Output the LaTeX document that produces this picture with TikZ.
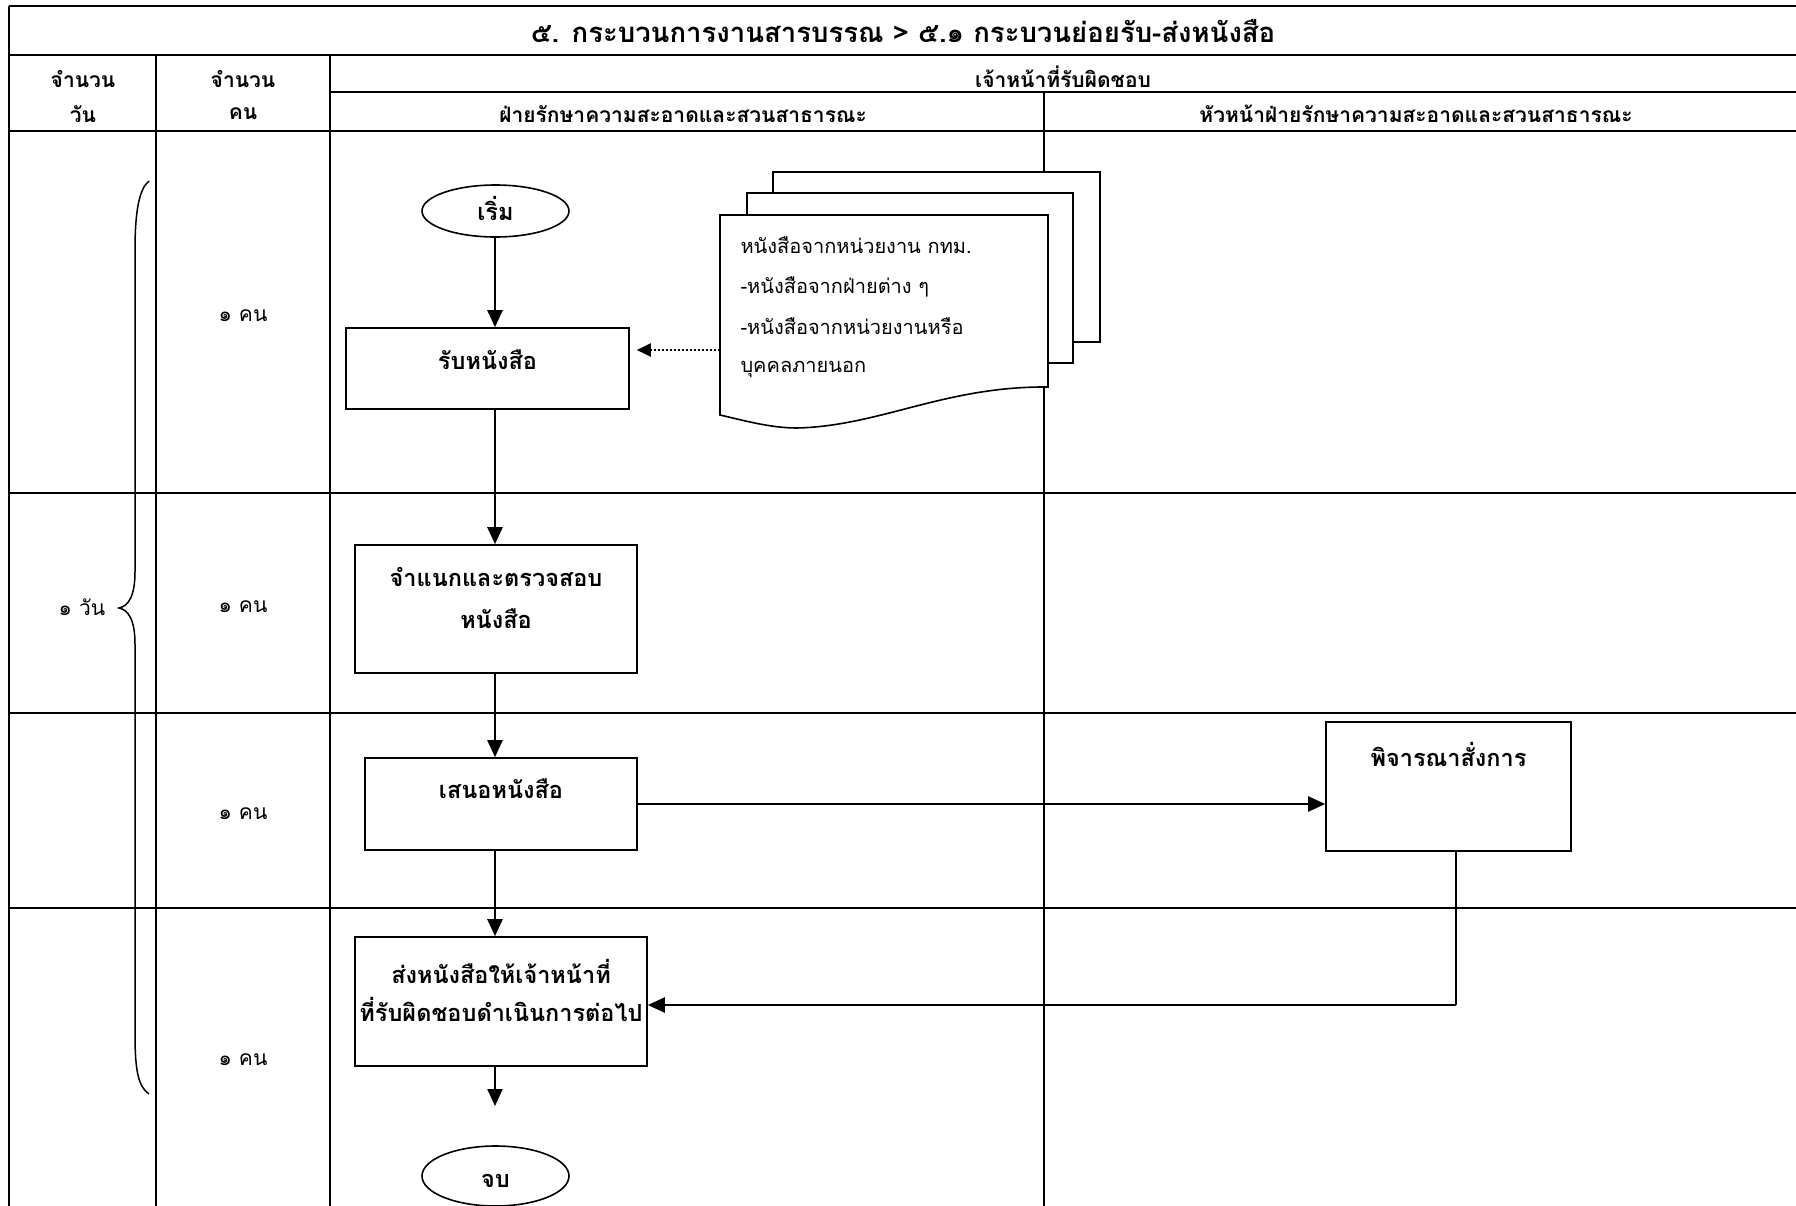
\documentclass[tikz,border=0pt]{standalone}
\usepackage{fontspec}
\setmainfont[Script=Thai]{Loma}
\usetikzlibrary{arrows.meta,calc,shapes.geometric}

\begin{document}
\begin{tikzpicture}[x=1pt,y=-1pt,
  gridline/.style={line width=2.6pt},
  laneline/.style={line width=1.8pt},
  box/.style={draw,line width=1.6pt,fill=white,rectangle,inner sep=0pt},
  term/.style={draw,line width=1.6pt,fill=white,ellipse,inner sep=0pt},
  flow/.style={line width=2.3pt,-{Triangle[length=17pt,width=15pt]}},
  plainflow/.style={line width=2pt},
  dotflow/.style={line width=2pt,dotted,-{Triangle[length=14pt,width=13pt]}},
  doc/.style={draw,line width=1.6pt,fill=white},
  titletext/.style={font=\fontsize{27.5}{32}\selectfont\bfseries},
  headtext/.style={font=\fontsize{21}{24}\selectfont\bfseries},
  boxtext/.style={font=\fontsize{23.5}{28}\selectfont\bfseries,align=center},
  plaintext/.style={font=\fontsize{21}{24}\selectfont},
  doctext/.style={font=\fontsize{20}{24}\selectfont,anchor=west},
]
\useasboundingbox (0,0) rectangle (1796,1205);
\fill[white] (0,0) rectangle (1796,1205);

% ---- table grid ----
\draw[gridline] (9,6) -- (1800,6);
\draw[gridline] (9,55) -- (1800,55);
\draw[gridline] (330,92) -- (1800,92);
\draw[gridline] (9,131) -- (1800,131);
\draw[gridline] (9,493) -- (1800,493);
\draw[gridline] (9,713) -- (1800,713);
\draw[gridline] (9,908) -- (1800,908);
\draw[gridline] (9,6) -- (9,1210);
\draw[gridline] (156,55) -- (156,1210);
\draw[gridline] (330,55) -- (330,1210);
\draw[laneline] (1044,92) -- (1044,1210);

% ---- headings ----
\node[titletext] (title) at (903,31) {๕. กระบวนการงานสารบรรณ > ๕.๑ กระบวนย่อยรับ-ส่งหนังสือ};
\node[headtext] (hday1) at (83,79) {จำนวน};
\node[headtext] (hday2) at (83,114) {วัน};
\node[headtext] (hman1) at (243,79) {จำนวน};
\node[headtext] (hman2) at (243,114) {คน};
\node[headtext] (hresp) at (1063,77) {เจ้าหน้าที่รับผิดชอบ};
\node[headtext] (hlane1) at (683,114) {ฝ่ายรักษาความสะอาดและสวนสาธารณะ};
\node[headtext] (hlane2) at (1416,114) {หัวหน้าฝ่ายรักษาความสะอาดและสวนสาธารณะ};

% ---- time and staff columns ----
\node[plaintext] (day) at (82,607) {๑ วัน};
\node[plaintext] (man1) at (243,316) {๑ คน};
\node[plaintext] (man2) at (243,607) {๑ คน};
\node[plaintext] (man3) at (243,814) {๑ คน};
\node[plaintext] (man4) at (243,1060) {๑ คน};
\draw[line width=1.5pt] (149,181) .. controls (139,189) and (135,212) .. (135,250)
  -- (135,572) .. controls (135,595) and (129,606) .. (119,608)
  .. controls (129,610) and (135,621) .. (135,644)
  -- (135,1035) .. controls (135,1073) and (139,1087) .. (149,1094);

% ---- incoming documents ----
\draw[doc] (773,172) rectangle (1100,342);
\draw[doc] (747,193) rectangle (1073,363);
\draw[doc] (720,215) -- (1048,215) -- (1048,387)
  .. controls (945,386) and (880,426) .. (797,428)
  .. controls (770,428) and (742,420) .. (720,415) -- cycle;
\coordinate (docin) at (720,350);
\node[doctext] (d1) at (737,245) {หนังสือจากหน่วยงาน กทม.};
\node[doctext] (d2) at (737,287) {-หนังสือจากฝ่ายต่าง ๆ};
\node[doctext] (d3) at (737,326) {-หนังสือจากหน่วยงานหรือ};
\node[doctext] (d4) at (737,369) {บุคคลภายนอก};

% ---- process steps ----
\node[term,minimum width=147pt,minimum height=52pt] (start) at (495.5,211) {};
\node[boxtext] (tstart) at (495.5,208) {เริ่ม};

\node[box,minimum width=283pt,minimum height=81pt] (b1) at (487.5,368.5) {};
\node[boxtext] (t1) at (487.5,360) {รับหนังสือ};

\node[box,minimum width=282pt,minimum height=128pt] (b2) at (496,609) {};
\node[boxtext] (t2a) at (496,577) {จำแนกและตรวจสอบ};
\node[boxtext] (t2b) at (496,619) {หนังสือ};

\node[box,minimum width=272pt,minimum height=92pt] (b3) at (501,804) {};
\node[boxtext] (t3) at (501,789) {เสนอหนังสือ};

\node[box,minimum width=245pt,minimum height=129pt] (b4) at (1448.5,786.5) {};
\node[boxtext] (t4) at (1448.5,754) {พิจารณาสั่งการ};

\node[box,minimum width=292pt,minimum height=129pt] (b5) at (501,1001.5) {};
\node[boxtext] (t5a) at (501,971) {ส่งหนังสือให้เจ้าหน้าที่};
\node[boxtext] (t5b) at (501,1009) {ที่รับผิดชอบดำเนินการต่อไป};

\node[term,minimum width=147pt,minimum height=60pt] (stop) at (495.5,1176) {};
\node[boxtext] (tstop) at (495.5,1181) {จบ};

% ---- connectors ----
\coordinate (spine) at (495,0);
\coordinate (tail) at (495,1106);
\draw[flow] (start.south -| spine) -- (b1.north -| spine);
\draw[flow] (b1.south -| spine) -- (b2.north -| spine);
\draw[flow] (b2.south -| spine) -- (b3.north -| spine);
\draw[flow] (b3.south -| spine) -- (b5.north -| spine);
\draw[flow] (b5.south -| spine) -- (tail);
\draw[flow] (b3.east) -- (b3.east -| b4.west);
\coordinate (ret) at (1456,1005);
\draw[plainflow] (b4.south -| ret) -- (ret);
\draw[flow] (ret) -- (ret -| b5.east);
\draw[dotflow] (docin) -- ($(b1.east |- docin)+(7,0)$);
\end{tikzpicture}
\end{document}
